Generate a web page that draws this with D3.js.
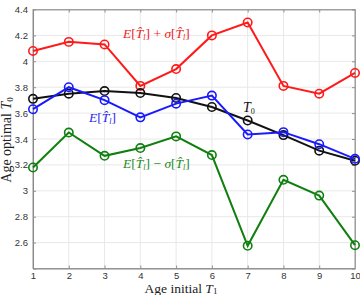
<!DOCTYPE html>
<html><head><meta charset="utf-8">
<script src="https://cdn.jsdelivr.net/npm/d3@7"></script>
<style>body{margin:0;background:#fff}</style>
</head><body>
<svg id="c" width="360" height="295"></svg>
<script>
const xs = [1,2,3,4,5,6,7,8,9,10];
const upper = [4.08,4.15,4.13,3.81,3.94,4.20,4.30,3.81,3.75,3.91];
const t0 = [3.71,3.75,3.77,3.755,3.717,3.647,3.543,3.43,3.31,3.232];
const mean = [3.63,3.80,3.70,3.567,3.673,3.735,3.435,3.453,3.36,3.247];
const lower = [3.18,3.45,3.27,3.33,3.42,3.276,2.575,3.085,2.963,2.58];
const xTicks = [1,2,3,4,5,6,7,8,9,10];
const yTicks = [2.4,2.6,2.8,3,3.2,3.4,3.6,3.8,4,4.2,4.4];

const svg = d3.select('#c');
const L=33,R=355,T=9.5,B=268.5;
const x = d3.scaleLinear().domain([1,10]).range([L,R]);
const y = d3.scaleLinear().domain([2.4,4.4]).range([B,T]);

// grid
const g = svg.append('g');
g.selectAll('.gx').data(xTicks).enter().append('line')
 .attr('x1',d=>x(d)).attr('x2',d=>x(d)).attr('y1',T).attr('y2',B)
 .attr('stroke','#e8e8e8').attr('stroke-width',1);
g.selectAll('.gy').data(yTicks).enter().append('line')
 .attr('y1',d=>y(d)).attr('y2',d=>y(d)).attr('x1',L).attr('x2',R)
 .attr('stroke','#e8e8e8').attr('stroke-width',1);

// box
svg.append('rect').attr('x',L).attr('y',T).attr('width',R-L).attr('height',B-T)
 .attr('fill','none').attr('stroke','#a0a0a0').attr('stroke-width',1);

// axes
const ax = d3.axisBottom(x).tickValues(xTicks).tickSizeInner(-3).tickSizeOuter(0).tickPadding(3.5).tickFormat(d3.format('d'));
const gx = svg.append('g').attr('transform',`translate(0,${B})`).call(ax);
const ay = d3.axisLeft(y).tickValues(yTicks).tickSizeInner(-3).tickSizeOuter(0).tickPadding(5)
 .tickFormat(d=> d===2.4 ? '' : d3.format('')(d));
const gy = svg.append('g').attr('transform',`translate(${L},0)`).call(ay);
// top/right ticks
const axT = d3.axisTop(x).tickValues(xTicks).tickSizeInner(-3).tickSizeOuter(0).tickFormat('');
svg.append('g').attr('transform',`translate(0,${T})`).call(axT);
const ayR = d3.axisRight(y).tickValues(yTicks).tickSizeInner(-3).tickSizeOuter(0).tickFormat('');
svg.append('g').attr('transform',`translate(${R},0)`).call(ayR);
svg.selectAll('.domain').attr('stroke','#a0a0a0');
svg.selectAll('.tick line').attr('stroke','#909090');
svg.selectAll('.tick text').attr('fill','#333').style('font-family','Liberation Sans, Arial, sans-serif').style('font-size','9.5px');
gx.selectAll('.domain').attr('stroke','#888');
gy.selectAll('.domain').attr('stroke','#888');

// series
const series = [
 {v: upper, c:'#ff1a1a'},
 {v: lower, c:'#0f800f'},
 {v: t0, c:'#111'},
 {v: mean, c:'#1a1aff'}
];
const line = d3.line().x((d,i)=>x(xs[i])).y(d=>y(d));
series.forEach(s=>{
  svg.append('path').datum(s.v).attr('d',line).attr('fill','none')
    .attr('stroke',s.c).attr('stroke-width',2);
  svg.selectAll(null).data(s.v).enter().append('circle')
    .attr('cx',(d,i)=>x(xs[i])).attr('cy',d=>y(d)).attr('r',4.2)
    .attr('fill','none').attr('stroke',s.c).attr('stroke-width',1.6);
});

// math labels
function mathLabel(px,py,parts,color){
  const t = svg.append('text').attr('x',px).attr('y',py).attr('fill',color)
   .style('font-family','Liberation Serif, serif').style('font-size','13.5px');
  parts.forEach(p=>{
    const ts = t.append('tspan').text(p.t);
    if(p.i) ts.style('font-style','italic');
    if(p.sub){ ts.attr('baseline-shift','-25%').style('font-size','8px'); }
  });
  return t;
}
const That = [{t:'E',i:1},{t:'['},{t:'T\u0302',i:1},{t:'l',i:1,sub:1},{t:']'}];
mathLabel(123,38,[...That,{t:' + '},{t:'σ',i:1},{t:'['},{t:'T\u0302',i:1},{t:'l',i:1,sub:1},{t:']'}],'#ee2222');
mathLabel(89,122,That,'#2828ee');
mathLabel(123,168,[...That,{t:' − '},{t:'σ',i:1},{t:'['},{t:'T\u0302',i:1},{t:'l',i:1,sub:1},{t:']'}],'#1a8a1a');
mathLabel(243,112,[{t:'T',i:1},{t:'0',sub:1}],'#111').style('font-size','14px');

// axis titles
const xl = svg.append('text').attr('x',181).attr('y',293).attr('text-anchor','middle')
 .attr('fill','#222').style('font-family','Liberation Serif, serif').style('font-size','13.5px');
xl.append('tspan').text('Age initial ');
xl.append('tspan').text('T').style('font-style','italic');
xl.append('tspan').text('1').attr('baseline-shift','-10%').style('font-size','9px');
const yl = svg.append('text').attr('transform','translate(11,140) rotate(-90)').attr('text-anchor','middle')
 .attr('fill','#222').style('font-family','Liberation Serif, serif').style('font-size','14px');
yl.append('tspan').text('Age optimal ');
yl.append('tspan').text('T').style('font-style','italic');
yl.append('tspan').text('0').attr('baseline-shift','-25%').style('font-size','9px');
</script>
</body></html>
